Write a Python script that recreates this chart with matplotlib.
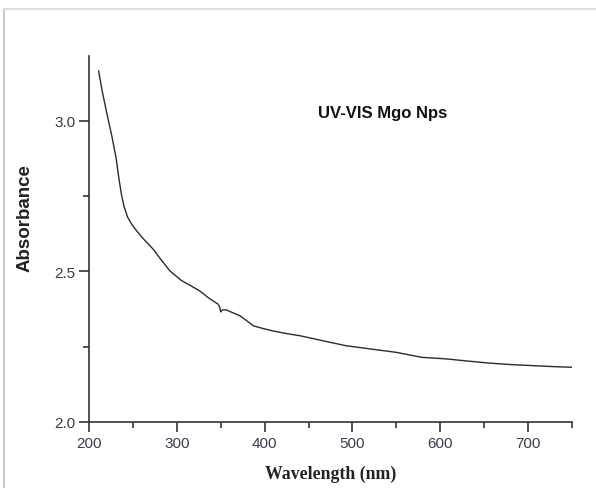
import matplotlib
matplotlib.use("Agg")
import matplotlib.pyplot as plt
from matplotlib.lines import Line2D
from matplotlib.ticker import MultipleLocator

# absorbance spectrum
wavelength = [211, 215, 220, 226, 231, 234, 237, 240, 244, 249, 255, 262, 273,
              283, 292, 305, 316, 326, 337, 347, 349, 350, 352, 356, 364, 372,
              380, 387, 398, 409, 425, 440, 465, 492, 520, 549, 579, 606, 630,
              655, 680, 708, 730, 750]
absorbance = [3.166, 3.10, 3.03, 2.95, 2.875, 2.81, 2.755, 2.715, 2.68, 2.655,
              2.632, 2.608, 2.574, 2.535, 2.502, 2.47, 2.452, 2.435, 2.41,
              2.391, 2.38, 2.365, 2.372, 2.372, 2.362, 2.352, 2.335, 2.319,
              2.31, 2.302, 2.293, 2.286, 2.27, 2.253, 2.242, 2.231, 2.214,
              2.209, 2.202, 2.195, 2.19, 2.186, 2.183, 2.181]

xticks = [200, 300, 400, 500, 600, 700]
yticks = [2.0, 2.5, 3.0]
tick_color = "#3b3b4b"

fig = plt.figure(figsize=(5.96, 4.89), dpi=100)
ax = fig.add_axes([0.1493, 0.1356, 0.8104, 0.7478])

ax.plot(wavelength, absorbance, color="#2b2b2b", linewidth=1.0)

ax.set_xlim(200, 750)
ax.set_ylim(2.0, 3.216)
ax.set_xticks(xticks)
ax.set_yticks(yticks)
ax.set_yticklabels(["%.1f" % v for v in yticks])
ax.xaxis.set_minor_locator(MultipleLocator(50))
ax.yaxis.set_minor_locator(MultipleLocator(0.25))

for side in ["top", "right"]:
    ax.spines[side].set_visible(False)
for side in ["left", "bottom"]:
    ax.spines[side].set_color("#333333")
    ax.spines[side].set_linewidth(1.2)

ax.tick_params(which="major", direction="out", length=7, width=1.2,
               color="#333333", labelsize=11, labelcolor=tick_color, pad=3)
ax.tick_params(which="minor", direction="out", length=4, width=1.2,
               color="#333333")
for lab in ax.get_xticklabels() + ax.get_yticklabels():
    lab.set_family("Liberation Sans")

ax.set_xlabel("Wavelength (nm)", family="Liberation Serif", fontweight="bold",
              fontsize=12.8, color="#222222")
ax.xaxis.set_label_coords(0.5, -0.118)
ax.set_ylabel("Absorbance", family="Liberation Sans", fontweight="bold",
              fontsize=13.5, color="#222222")
ax.yaxis.set_label_coords(-0.115, 0.56)

ax.text(0.475, 0.846, "UV-VIS Mgo Nps", transform=ax.transAxes,
        family="Liberation Sans", fontweight="bold", fontsize=12,
        color="#111111", ha="left", va="center")

# grey frame at left and top of the picture
fig.add_artist(Line2D([4 / 596, 4 / 596], [0, 1 - 10 / 489],
                      transform=fig.transFigure, color="#c8c8c8", linewidth=1.5))
fig.add_artist(Line2D([4 / 596, 1], [1 - 10 / 489, 1 - 10 / 489],
                      transform=fig.transFigure, color="#dddddd", linewidth=1.5))

fig.savefig("out.png", dpi=100)
